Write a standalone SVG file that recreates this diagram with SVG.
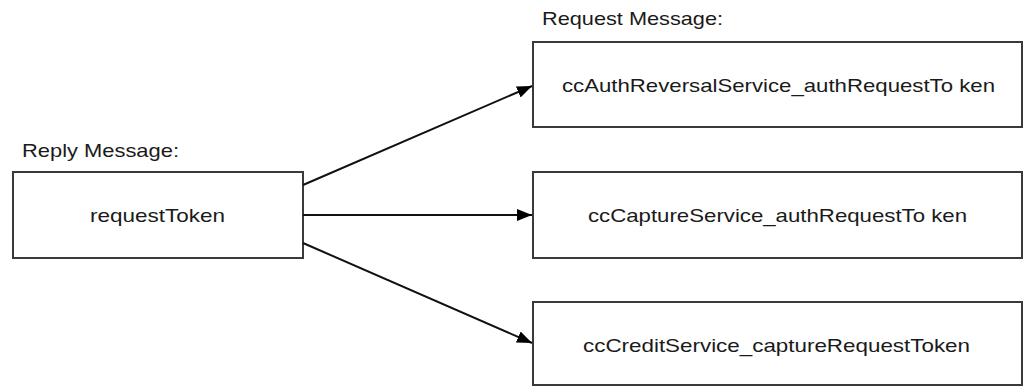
<svg xmlns="http://www.w3.org/2000/svg" width="1024" height="387" viewBox="0 0 1024 387">
<style>
.box{fill:#fff;stroke:#3a3a3a;stroke-width:2}
.lbl{font-family:"Liberation Sans",Arial,sans-serif;font-size:18.6px;fill:#1a1a1a}
.c{text-anchor:middle}
.con{stroke:#111;stroke-width:2;fill:none}
</style>
<defs>
<marker id="ah" markerWidth="15" markerHeight="12" refX="15" refY="6" orient="auto" markerUnits="userSpaceOnUse" viewBox="0 0 15 12">
<path d="M0,0 L15,6 L0,12 z" fill="#000"/>
</marker>
</defs>
<rect width="1024" height="387" fill="#fff"/>
<text class="lbl" x="22" y="157" textLength="157" lengthAdjust="spacingAndGlyphs">Reply Message:</text>
<text class="lbl" x="542" y="25" textLength="181" lengthAdjust="spacingAndGlyphs">Request Message:</text>
<g id="reply">
<rect class="box" x="13" y="172" width="290" height="86"/>
<text class="lbl" x="90" y="222" textLength="135" lengthAdjust="spacingAndGlyphs">requestToken</text>
</g>
<g id="authReversal">
<rect class="box" x="533" y="42" width="489" height="85"/>
<text class="lbl" x="562" y="92" textLength="433" lengthAdjust="spacingAndGlyphs">ccAuthReversalService_authRequestTo ken</text>
</g>
<g id="capture">
<rect class="box" x="533" y="172" width="489" height="86"/>
<text class="lbl" x="588" y="222" textLength="379" lengthAdjust="spacingAndGlyphs">ccCaptureService_authRequestTo ken</text>
</g>
<g id="credit">
<rect class="box" x="533" y="302" width="489" height="83"/>
<text class="lbl" x="583" y="352" textLength="387" lengthAdjust="spacingAndGlyphs">ccCreditService_captureRequestToken</text>
</g>
<g id="connectors">
<line class="con" x1="303" y1="185" x2="532" y2="86" marker-end="url(#ah)"/>
<line class="con" x1="303" y1="215" x2="532" y2="215" marker-end="url(#ah)"/>
<line class="con" x1="303" y1="243" x2="532" y2="343" marker-end="url(#ah)"/>
</g>
</svg>
